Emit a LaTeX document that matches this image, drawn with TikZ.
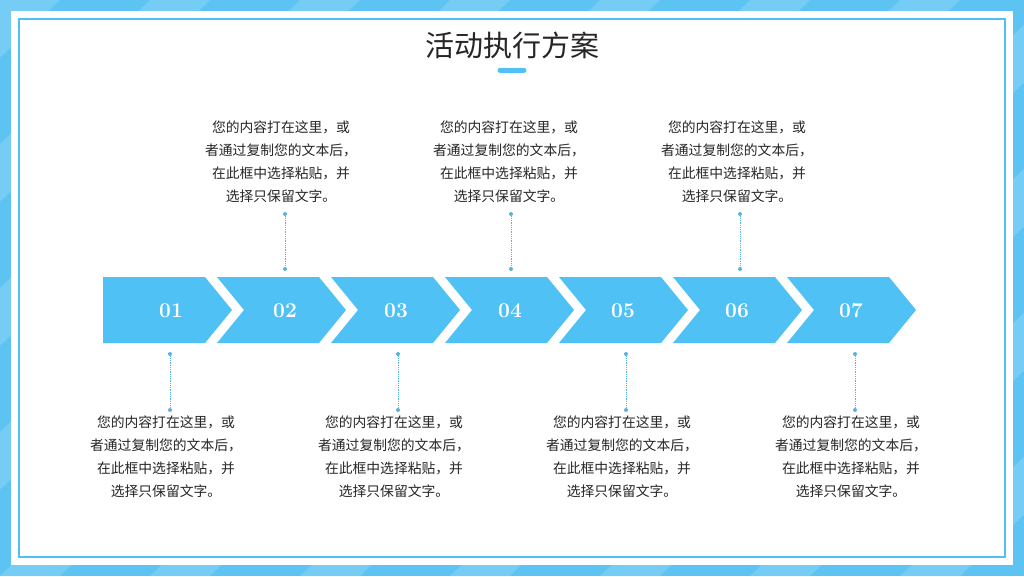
\documentclass[tikz,border=0pt]{standalone}
\usepackage{fontspec}
\newfontfamily\cjk{Noto Sans CJK SC}
\definecolor{bgblue}{HTML}{5CC3F2}
\definecolor{bgl}{HTML}{86D3F6}
\definecolor{arr}{HTML}{4FC1F5}
\definecolor{dot}{HTML}{5AB4D8}
\begin{document}
\begin{tikzpicture}[x=1pt,y=-1pt,
  desc/.style={font=\cjk\fontsize{13.8}{23}\selectfont,align=center,text=black!85,inner sep=0},
  num/.style={font=\bfseries\fontsize{21}{21}\selectfont,text=white},
  lead/.style={dot,densely dotted,line width=0.8pt},
  endpt/.style={circle,fill=dot,inner sep=0,minimum size=4pt}]
\useasboundingbox (0,0) rectangle (1024,576);
\fill[bgblue] (0,0) rectangle (1024,576);
\begin{scope}
\clip (0,0) rectangle (1024,576);
\foreach \i in {-600,-450,...,1200}{
  \fill[bgl,opacity=0.6] (\i,576) -- (\i+60,576) -- (\i+660,0) -- (\i+600,0) -- cycle;}
\end{scope}
\fill[white] (11,11) rectangle (1013,565);
\draw[arr,line width=1.5pt] (19,19) rectangle (1005,557);
\node[font=\cjk\fontsize{29}{29}\selectfont,text=black!85] (title) at (512,45) {活动执行方案};
\draw[arr,line width=5pt,line cap=round] (500,70) -- (524,70);
% arrows
\fill[arr] (103,277) -- (205,277) -- (232,310) -- (205,343) -- (103,343) -- cycle;
\foreach \x in {217,331,445,559,673,787}{
  \fill[arr] (\x,277) -- (\x+102,277) -- (\x+129,310) -- (\x+102,343) -- (\x,343) -- (\x+27,310) -- cycle;}
\foreach \n/\x in {01/171,02/285,03/396,04/510,05/623,06/737,07/851}
  \node[num] (n\n) at (\x,311) {\n};
% top texts
\foreach \k/\x in {a/281,b/509,c/737}{
  \node[desc,anchor=north] (t\k) at (\x,121) {您的内容打在这里，或\\者通过复制您的文本后，\\在此框中选择粘贴，并\\选择只保留文字。};}
\foreach \k/\x in {a/285,b/511,c/740}{
  \node[endpt] (ta\k) at (\x,214) {};
  \node[endpt] (tb\k) at (\x,269) {};
  \draw[lead] (ta\k) -- (tb\k);}
\foreach \k/\x in {a/170,b/398,c/626,d/855}{
  \node[endpt] (ba\k) at (\x,354) {};
  \node[endpt] (bb\k) at (\x,410) {};
  \draw[lead] (ba\k) -- (bb\k);}
\foreach \k/\x in {a/166,b/394,c/622,d/851}{
  \node[desc,anchor=north] (b\k) at (\x,416) {您的内容打在这里，或\\者通过复制您的文本后，\\在此框中选择粘贴，并\\选择只保留文字。};}
\end{tikzpicture}
\end{document}
